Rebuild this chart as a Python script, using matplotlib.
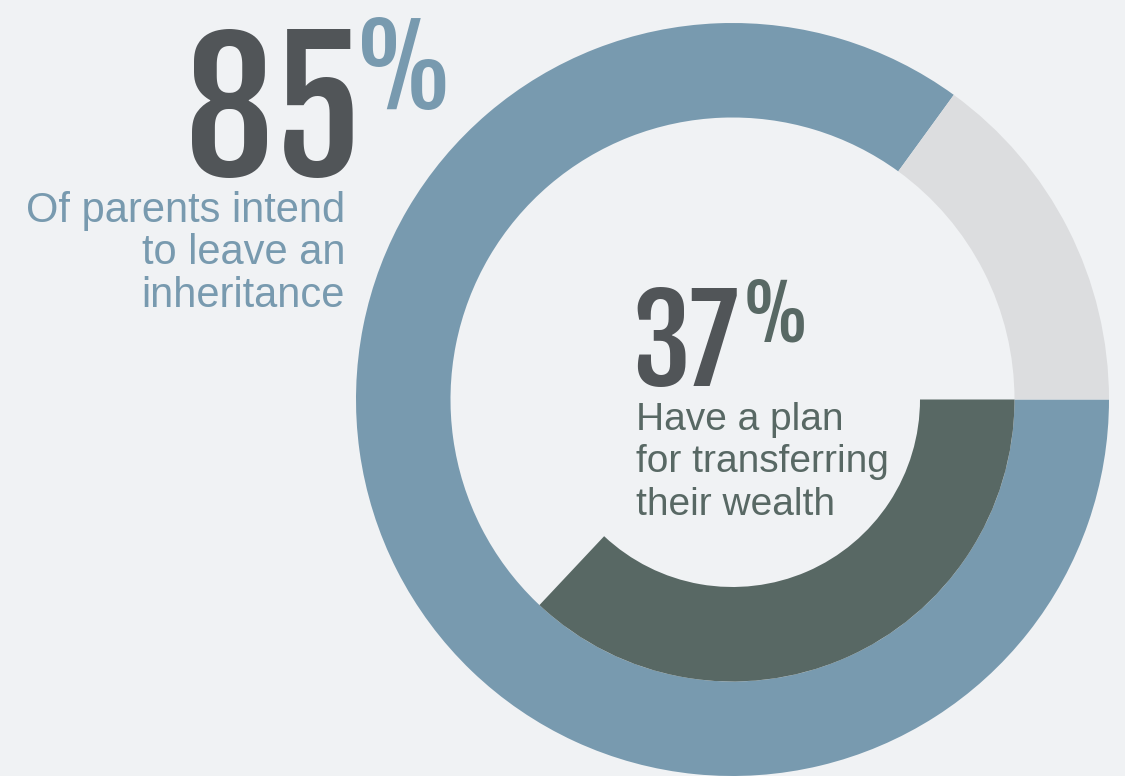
import matplotlib
matplotlib.use("Agg")
import matplotlib.pyplot as plt

# share of parents, outer ring: intend to leave an inheritance vs. not
outer_values = [85, 15]
# inner ring: have a plan for transferring wealth vs. the rest (left blank)
inner_values = [37, 63]

headline_outer = "85"
headline_inner = "37"
caption_outer = ["Of parents intend", "to leave an", "inheritance"]
caption_inner = ["Have a plan", "for transferring", "their wealth"]

BG = "#f0f2f4"
BLUE = "#789aaf"
LIGHT = "#dcdddf"
DARK = "#586864"
NUM = "#515558"

W, H = 1125, 776
fig = plt.figure(figsize=(W / 100, H / 100), dpi=100, facecolor=BG)
ax = fig.add_axes([0, 0, 1, 1])
ax.set_facecolor(BG)

cx, cy = 732.5, H - 399.5
r_out, r_mid, r_in = 376.5, 282, 187.5

ax.pie(outer_values, colors=[BLUE, LIGHT], radius=r_out, center=(cx, cy),
       startangle=0, counterclock=False, frame=True,
       wedgeprops=dict(width=r_out - r_mid, linewidth=0))
ax.pie(inner_values, colors=[DARK, "none"], radius=r_mid, center=(cx, cy),
       startangle=0, counterclock=False, frame=True,
       wedgeprops=dict(width=r_mid - r_in, linewidth=0))

ax.set_xlim(0, W)
ax.set_ylim(0, H)
ax.set_aspect("equal")
ax.axis("off")

big = ["Fjalla One", "Oswald", "DejaVu Sans"]
body = ["Liberation Sans", "DejaVu Sans"]

ax.text(185, H - 177, headline_outer, family=big, fontsize=127,
        color=NUM, ha="left", va="baseline")
ax.text(354, H - 109, "%", family=big, fontsize=78,
        color=BLUE, ha="left", va="baseline")
for i, line in enumerate(caption_outer):
    ax.text(345, H - (222 + 42.5 * i), line, family=body, fontsize=30,
            color=BLUE, ha="right", va="baseline")

ax.text(632, H - 386, headline_inner, family=big, fontsize=85,
        color=NUM, ha="left", va="baseline")
ax.text(742, H - 341, "%", family=big, fontsize=53,
        color=DARK, ha="left", va="baseline")
for i, line in enumerate(caption_inner):
    ax.text(636, H - (430 + 42.5 * i), line, family=body, fontsize=28,
            color=DARK, ha="left", va="baseline")

fig.savefig("out.png", facecolor=BG)
